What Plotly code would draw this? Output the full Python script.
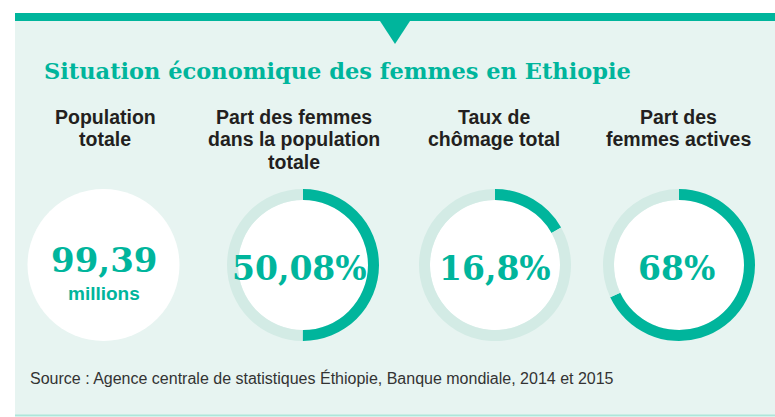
import plotly.graph_objects as go

W, H = 775, 417

# ---- data ----
headers = [["Population", "totale"],
           ["Part des femmes", "dans la population", "totale"],
           ["Taux de", "chômage total"],
           ["Part des", "femmes actives"]]
population_millions = 99.39
population_label = "99,39"
population_unit = "millions"
share_values = [50.08, 16.8, 68.0]
share_labels = ["50,08%", "16,8%", "68%"]
title_text = "Situation économique des femmes en Ethiopie"
source_text = "Source : Agence centrale de statistiques Éthiopie, Banque mondiale, 2014 et 2015"

# ---- style ----
TEAL = "#00b59c"
TRACK = "#d3ebe5"
PANEL = "#e7f4f1"
DARK = "#231f20"
centers_x = [103.5, 303, 495, 679]
label_x = [103.5, 299, 494.5, 676.5]
header_x = [105, 294, 494, 678]
center_y = 265
R_OUT = 76
R_IN = 65


def px(x):
    return x / W


def py(y):
    return 1 - y / H


fig = go.Figure()

shapes = [
    dict(type="rect", xref="paper", yref="paper", x0=px(15), x1=px(775), y0=py(415), y1=py(21),
         fillcolor=PANEL, line=dict(width=0), layer="below"),
    dict(type="rect", xref="paper", yref="paper", x0=px(15), x1=px(775), y0=py(21), y1=py(13),
         fillcolor=TEAL, line=dict(width=0), layer="below"),
    dict(type="path", xref="paper", yref="paper",
         path=f"M {px(380)},{py(21)} L {px(410)},{py(21)} L {px(395)},{py(44)} Z",
         fillcolor=TEAL, line=dict(width=0), layer="below"),
    dict(type="line", xref="paper", yref="paper", x0=px(15), x1=px(775), y0=py(415.5), y1=py(415.5),
         line=dict(color="#aee6da", width=2), layer="below"),
]
for cx in centers_x[1:]:
    shapes.append(dict(type="circle", xref="paper", yref="paper",
                       x0=px(cx - R_IN), x1=px(cx + R_IN), y0=py(center_y + R_IN), y1=py(center_y - R_IN),
                       fillcolor="white", line=dict(width=0), layer="below"))


def dom(cx):
    return dict(x=[px(cx - R_OUT), px(cx + R_OUT)], y=[py(center_y + R_OUT), py(center_y - R_OUT)])


# first: solid white disc
fig.add_trace(go.Pie(values=[population_millions], marker=dict(colors=["white"]), domain=dom(centers_x[0]),
                     textinfo="none", hoverinfo="skip", sort=False, showlegend=False))

for cx, v in zip(centers_x[1:], share_values):
    fig.add_trace(go.Pie(values=[v, 100 - v], marker=dict(colors=[TEAL, TRACK], line=dict(width=0)),
                         hole=R_IN / R_OUT, domain=dom(cx), direction="clockwise", rotation=0,
                         sort=False, textinfo="none", hoverinfo="skip", showlegend=False))

ann = []
ann.append(dict(x=px(42), y=py(71), xref="paper", yref="paper", xanchor="left", yanchor="middle",
                text=f"<b>{title_text}</b>", showarrow=False,
                font=dict(family="DejaVu Serif", size=22.5, color=TEAL)))
line_y = [116.5, 139, 161.5]
for hx, lines in zip(header_x, headers):
    for i, t in enumerate(lines):
        ann.append(dict(x=px(hx), y=py(line_y[i]), xref="paper", yref="paper", xanchor="center",
                        yanchor="middle", text=f"<b>{t}</b>", showarrow=False,
                        font=dict(family="Liberation Sans", size=19.5, color=DARK)))
ann.append(dict(x=px(label_x[0]), y=py(260), xref="paper", yref="paper", xanchor="center", yanchor="middle",
                text=f"<b>{population_label}</b>", showarrow=False,
                font=dict(family="DejaVu Serif", size=34, color=TEAL)))
ann.append(dict(x=px(label_x[0]), y=py(293), xref="paper", yref="paper", xanchor="center", yanchor="middle",
                text=f"<b>{population_unit}</b>", showarrow=False,
                font=dict(family="Liberation Sans", size=19, color=TEAL)))
for lx, lab in zip(label_x[1:], share_labels):
    ann.append(dict(x=px(lx), y=py(268), xref="paper", yref="paper", xanchor="center", yanchor="middle",
                    text=f"<b>{lab}</b>", showarrow=False,
                    font=dict(family="DejaVu Serif", size=33, color=TEAL)))
ann.append(dict(x=px(28), y=py(378), xref="paper", yref="paper", xanchor="left", yanchor="middle",
                text=source_text, showarrow=False,
                font=dict(family="Liberation Sans", size=16, color="#333333")))

fig.update_layout(width=W, height=H, margin=dict(l=0, r=0, t=0, b=0),
                  paper_bgcolor="white", plot_bgcolor="white",
                  shapes=shapes, annotations=ann, showlegend=False)

fig.write_html("out.html")
